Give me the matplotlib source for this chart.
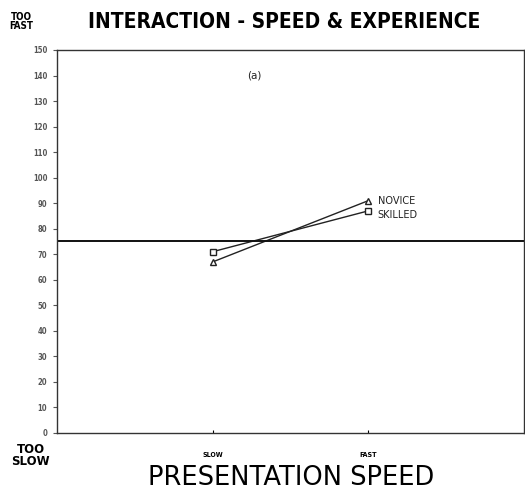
import matplotlib.pyplot as plt

# rating of presentation speed by experience group
speeds = ['SLOW', 'FAST']
novice = [67, 91]
skilled = [71, 87]
neutral = 75
y_ticks = list(range(0, 151, 10))

fig = plt.figure(figsize=(5.25, 4.97), dpi=100)
ax = fig.add_axes([0.1086, 0.1288, 0.8895, 0.7706])

x = [1, 2]
ax.plot(x, novice, color='#222222', lw=1.0, marker='^', ms=4,
        mfc='white', mec='#222222', mew=1.0)
ax.plot(x, skilled, color='#222222', lw=1.0, marker='s', ms=4,
        mfc='white', mec='#222222', mew=1.0)
ax.axhline(neutral, color='#111111', lw=1.4)

ax.text(2.06, novice[1], 'NOVICE', fontsize=7, va='center', color='#222222')
ax.text(2.06, skilled[1] - 1.5, 'SKILLED', fontsize=7, va='center', color='#222222')
ax.text(1.27, 140, '(a)', fontsize=7.5, va='center', ha='center', color='#222222')

ax.set_xlim(0, 3)
ax.set_ylim(0, 150)
ax.set_yticks(y_ticks)
ax.set_yticklabels([str(v) for v in y_ticks], fontsize=5.5, fontweight='bold',
                   color='#666666', fontstretch='condensed')
ax.set_xticks(x)
ax.set_xticklabels(speeds, fontsize=5, fontweight='bold', fontstretch='condensed')
ax.tick_params(axis='y', length=3, width=0.8, pad=4, colors='#555555')
ax.tick_params(axis='x', length=2, width=0.8, pad=14, direction='in')
for s in ax.spines.values():
    s.set_linewidth(1.0)
    s.set_color('#333333')

fig.text(0.541, 0.955, 'INTERACTION - SPEED & EXPERIENCE', ha='center', va='center',
         fontsize=15, fontweight='bold', fontstretch='condensed')
fig.text(0.040, 0.957, 'TOO\nFAST', ha='center', va='center', fontsize=7,
         fontweight='bold', linespacing=0.85, fontstretch='condensed')
fig.text(0.058, 0.083, 'TOO\nSLOW', ha='center', va='center', fontsize=8.5,
         fontweight='bold', linespacing=0.9)
fig.text(0.555, 0.038, 'PRESENTATION SPEED', ha='center', va='center', fontsize=18.5)

fig.savefig('out.png', dpi=100)
